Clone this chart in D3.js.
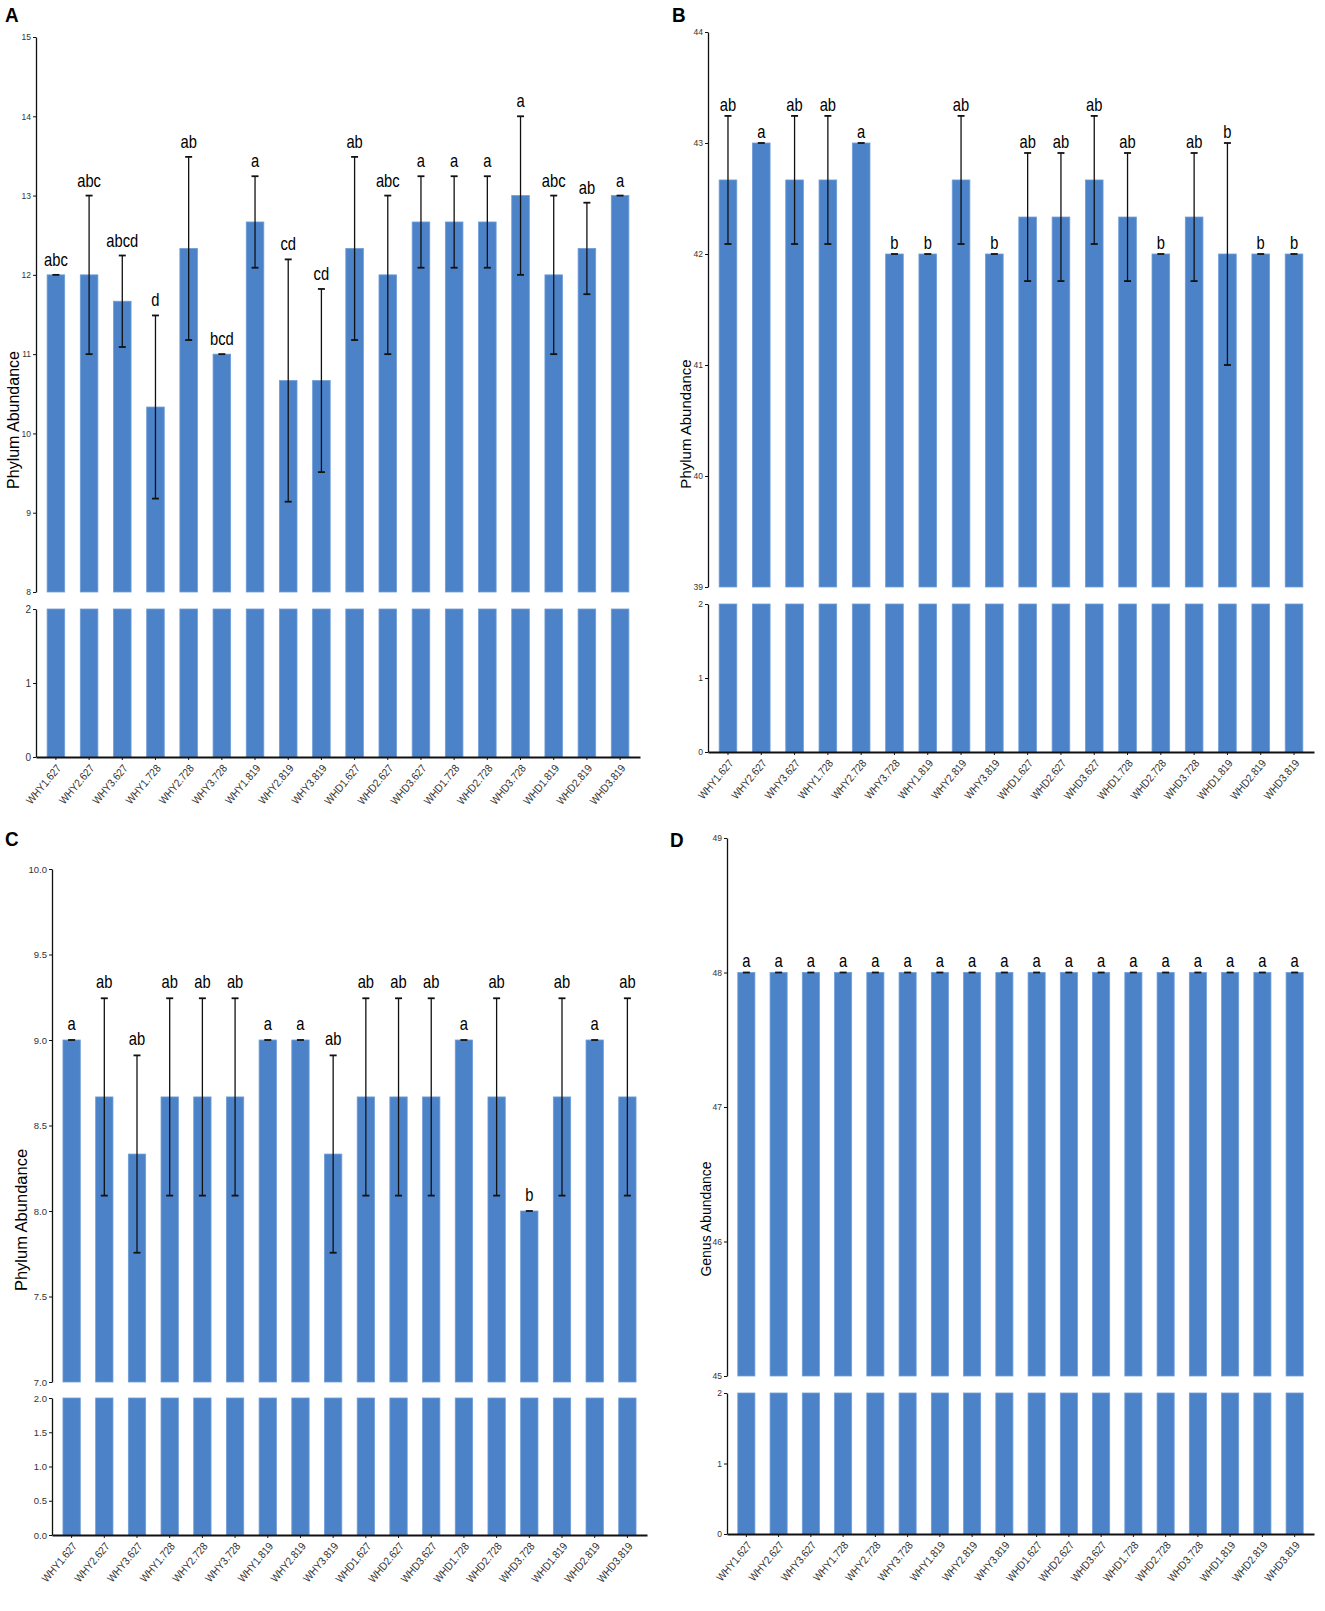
<!DOCTYPE html>
<html>
<head>
<meta charset="utf-8">
<script src="https://cdn.jsdelivr.net/npm/d3@7"></script>
<style>
  body { margin: 0; background: #fff; }
  svg { display: block; }
</style>
</head>
<body>
<div id="chart"></div>
<script>
const width = 1325,
  height = 1611;

// sample names (x categories), same for all four panels
const samples = [
  "WHY1.627", "WHY2.627", "WHY3.627", "WHY1.728", "WHY2.728", "WHY3.728",
  "WHY1.819", "WHY2.819", "WHY3.819", "WHD1.627", "WHD2.627", "WHD3.627",
  "WHD1.728", "WHD2.728", "WHD3.728", "WHD1.819", "WHD2.819", "WHD3.819"
];

// Panel A - phylum abundance
const meanA = [12, 12, 11.667, 10.333, 12.333, 11, 12.667, 10.667, 10.667,
  12.333, 12, 12.667, 12.667, 12.667, 13, 12, 12.333, 13];
const sdA = [0, 1, 0.577, 1.155, 1.155, 0, 0.577, 1.528, 1.155,
  1.155, 1, 0.577, 0.577, 0.577, 1, 1, 0.577, 0];
const lettersA = ["abc", "abc", "abcd", "d", "ab", "bcd", "a", "cd", "cd",
  "ab", "abc", "a", "a", "a", "a", "abc", "ab", "a"];

// Panel B
const meanB = [42.667, 43, 42.667, 42.667, 43, 42, 42, 42.667, 42,
  42.333, 42.333, 42.667, 42.333, 42, 42.333, 42, 42, 42];
const sdB = [0.577, 0, 0.577, 0.577, 0, 0, 0, 0.577, 0,
  0.577, 0.577, 0.577, 0.577, 0, 0.577, 1, 0, 0];
const lettersB = ["ab", "a", "ab", "ab", "a", "b", "b", "ab", "b",
  "ab", "ab", "ab", "ab", "b", "ab", "b", "b", "b"];

// Panel C
const meanC = [9, 8.667, 8.333, 8.667, 8.667, 8.667, 9, 9, 8.333,
  8.667, 8.667, 8.667, 9, 8.667, 8, 8.667, 9, 8.667];
const sdC = [0, 0.577, 0.577, 0.577, 0.577, 0.577, 0, 0, 0.577,
  0.577, 0.577, 0.577, 0, 0.577, 0, 0.577, 0, 0.577];
const lettersC = ["a", "ab", "ab", "ab", "ab", "ab", "a", "a", "ab",
  "ab", "ab", "ab", "a", "ab", "b", "ab", "a", "ab"];

// Panel D - genus abundance
const meanD = [48, 48, 48, 48, 48, 48, 48, 48, 48, 48, 48, 48, 48, 48, 48, 48, 48, 48];
const sdD = [0, 0, 0, 0, 0, 0, 0, 0, 0, 0, 0, 0, 0, 0, 0, 0, 0, 0];
const lettersD = ["a", "a", "a", "a", "a", "a", "a", "a", "a",
  "a", "a", "a", "a", "a", "a", "a", "a", "a"];

// tick labels
const ticksA = [8, 9, 10, 11, 12, 13, 14, 15];
const ticksB = [39, 40, 41, 42, 43, 44];
const ticksC = [7.0, 7.5, 8.0, 8.5, 9.0, 9.5, 10.0];
const ticksD = [45, 46, 47, 48, 49];
const ticksLow = [0, 1, 2];
const ticksLowC = [0, 0.5, 1.0, 1.5, 2.0];

const barColor = "#4c83c8";
const sans = "'Liberation Sans', Arial, sans-serif";

const svg = d3
  .select("#chart")
  .append("svg")
  .attr("width", width)
  .attr("height", height);

svg.append("rect").attr("width", width).attr("height", height).attr("fill", "#fff");

// layout of each panel (pixel positions of the broken axis)
const panels = [
  {
    tag: "A", tagX: 5, tagY: 22,
    mean: meanA, sd: sdA, letters: lettersA,
    x0: 36, x1: 640,
    top: [8, 15], topY: [592, 37], topTicks: ticksA, topFmt: d3.format("d"), topFont: 8.5,
    low: [0, 2], lowY: [757, 609], lowTicks: ticksLow, lowFmt: d3.format("d"), lowFont: 10,
    title: "Phylum Abundance", titleX: 13, titleY: 420, titleFont: 16, labelGap: 9
  },
  {
    tag: "B", tagX: 672, tagY: 22,
    mean: meanB, sd: sdB, letters: lettersB,
    x0: 708, x1: 1314,
    top: [39, 44], topY: [587, 32], topTicks: ticksB, topFmt: d3.format("d"), topFont: 8.5,
    low: [0, 2], lowY: [752, 604], lowTicks: ticksLow, lowFmt: d3.format("d"), lowFont: 8.5,
    title: "Phylum Abundance", titleX: 686, titleY: 424, titleFont: 15, labelGap: 5
  },
  {
    tag: "C", tagX: 5, tagY: 846,
    mean: meanC, sd: sdC, letters: lettersC,
    x0: 52, x1: 647,
    top: [7, 10], topY: [1382, 869], topTicks: ticksC, topFmt: d3.format(".1f"), topFont: 9.5,
    low: [0, 2], lowY: [1535, 1398], lowTicks: ticksLowC, lowFmt: d3.format(".1f"), lowFont: 9.5,
    title: "Phylum Abundance", titleX: 21, titleY: 1220, titleFont: 16.5, labelGap: 10
  },
  {
    tag: "D", tagX: 670, tagY: 847,
    mean: meanD, sd: sdD, letters: lettersD,
    x0: 727, x1: 1314,
    top: [45, 49], topY: [1376, 838], topTicks: ticksD, topFmt: d3.format("d"), topFont: 8.5,
    low: [0, 2], lowY: [1534, 1393], lowTicks: ticksLow, lowFmt: d3.format("d"), lowFont: 8.5,
    title: "Genus Abundance", titleX: 706, titleY: 1219, titleFont: 14, labelGap: 6
  }
];

panels.forEach(drawPanel);

function drawPanel(p) {
  const g = svg.append("g");
  const rows = samples.map((s, i) => ({ s: s, v: p.mean[i], e: p.sd[i], l: p.letters[i] }));

  // ggplot-like discrete axis: bar width ~0.53 of a step, 0.6 step expansion each side
  const x = d3.scaleBand()
    .domain(samples)
    .range([p.x0, p.x1])
    .paddingInner(0.47)
    .paddingOuter(0.335);
  const yTop = d3.scaleLinear().domain(p.top).range(p.topY);
  const yLow = d3.scaleLinear().domain(p.low).range(p.lowY);

  // upper bars (cut at the break)
  g.selectAll(".barTop")
    .data(rows)
    .join("rect")
    .attr("x", (d) => x(d.s))
    .attr("width", x.bandwidth())
    .attr("y", (d) => yTop(Math.min(d.v, p.top[1])))
    .attr("height", (d) => yTop(p.top[0]) - yTop(Math.min(d.v, p.top[1])))
    .attr("fill", barColor)
    .attr("stroke", "#6f9dd8")
    .attr("stroke-width", 0.8);

  // lower bars (full height of the lower segment)
  g.selectAll(".barLow")
    .data(rows)
    .join("rect")
    .attr("x", (d) => x(d.s))
    .attr("width", x.bandwidth())
    .attr("y", (d) => yLow(Math.min(d.v, p.low[1])))
    .attr("height", (d) => yLow(0) - yLow(Math.min(d.v, p.low[1])))
    .attr("fill", barColor)
    .attr("stroke", "#6f9dd8")
    .attr("stroke-width", 0.8);

  // error bars
  const cx = (d) => x(d.s) + x.bandwidth() / 2;
  const cap = 3.5;
  g.selectAll(".errLine")
    .data(rows.filter((d) => d.e > 0))
    .join("line")
    .attr("x1", cx).attr("x2", cx)
    .attr("y1", (d) => yTop(d.v - d.e))
    .attr("y2", (d) => yTop(d.v + d.e))
    .attr("stroke", "#111")
    .attr("stroke-width", 1.3);
  g.selectAll(".capTop")
    .data(rows)
    .join("line")
    .attr("x1", (d) => cx(d) - cap).attr("x2", (d) => cx(d) + cap)
    .attr("y1", (d) => yTop(d.v + d.e)).attr("y2", (d) => yTop(d.v + d.e))
    .attr("stroke", "#111")
    .attr("stroke-width", 1.8);
  g.selectAll(".capLow")
    .data(rows.filter((d) => d.e > 0))
    .join("line")
    .attr("x1", (d) => cx(d) - cap).attr("x2", (d) => cx(d) + cap)
    .attr("y1", (d) => yTop(d.v - d.e)).attr("y2", (d) => yTop(d.v - d.e))
    .attr("stroke", "#111")
    .attr("stroke-width", 1.8);

  // significance letters (condensed like the original figure)
  g.selectAll(".sig")
    .data(rows)
    .join("text")
    .attr("transform", (d) => `translate(${cx(d)},${yTop(d.v + d.e) - p.labelGap}) scale(0.82,1)`)
    .attr("text-anchor", "middle")
    .style("font-family", sans)
    .style("font-size", "18px")
    .attr("fill", "#000")
    .text((d) => d.l);

  // y axes (upper and lower segment)
  const axTop = g.append("g")
    .attr("transform", `translate(${p.x0},0)`)
    .call(d3.axisLeft(yTop).tickValues(p.topTicks).tickFormat(p.topFmt).tickSize(3).tickSizeOuter(0).tickPadding(2));
  styleAxis(axTop, p.topFont);

  const axLow = g.append("g")
    .attr("transform", `translate(${p.x0},0)`)
    .call(d3.axisLeft(yLow).tickValues(p.lowTicks).tickFormat(p.lowFmt).tickSize(3).tickSizeOuter(0).tickPadding(2));
  styleAxis(axLow, p.lowFont);

  // x axis at the bottom of the lower segment
  const axX = g.append("g")
    .attr("transform", `translate(0,${p.lowY[0]})`)
    .call(d3.axisBottom(x).tickSize(3).tickSizeOuter(0));
  styleAxis(axX, 11);
  axX.select(".domain").attr("stroke-width", 1.8);
  axX.selectAll("text")
    .attr("x", 0)
    .attr("y", 0)
    .attr("dy", "0.35em")
    .attr("transform", "translate(3,9) rotate(-50) scale(0.9,1)")
    .attr("text-anchor", "end");

  // y axis title
  g.append("text")
    .attr("transform", `translate(${p.titleX},${p.titleY}) rotate(-90)`)
    .attr("text-anchor", "middle")
    .attr("dy", "0.35em")
    .style("font-family", sans)
    .style("font-size", p.titleFont + "px")
    .attr("fill", "#000")
    .text(p.title);

  // panel tag
  g.append("text")
    .attr("transform", `translate(${p.tagX},${p.tagY}) scale(0.9,1)`)
    .style("font-family", sans)
    .style("font-weight", "bold")
    .style("font-size", "21px")
    .attr("fill", "#000")
    .text(p.tag);
}

function styleAxis(ax, fontSize) {
  ax.select(".domain").attr("stroke", "#111").attr("stroke-width", 1.3);
  ax.selectAll(".tick line").attr("stroke", "#111").attr("stroke-width", 1);
  ax.selectAll(".tick text")
    .attr("fill", "#333")
    .style("font-family", sans)
    .style("font-size", fontSize + "px");
}
</script>
</body>
</html>
